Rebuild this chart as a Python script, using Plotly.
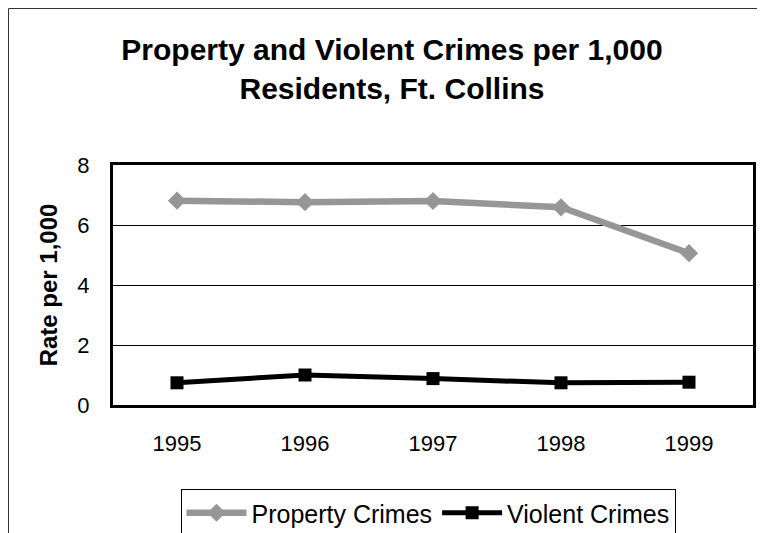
import plotly.graph_objects as go

years = ["1995", "1996", "1997", "1998", "1999"]
property_crimes = [6.81, 6.76, 6.80, 6.59, 5.06]
violent_crimes = [0.74, 1.00, 0.88, 0.74, 0.76]
y_ticks = [0, 2, 4, 6, 8]

# The page body adds an 8px offset, so figure coordinates = screen - 8
OFF = 8
W, H = 765, 533
L, R, T, B = 113 - OFF, W - (753 - OFF), 165 - OFF, H - (405 - OFF)
pw, ph = W - L - R, H - T - B

def px_x(fx):
    return (fx - L) / pw

def px_y(fy):
    return (H - B - fy) / ph

fig = go.Figure()
fig.add_trace(go.Scatter(
    x=years, y=property_crimes, name="Property Crimes", mode="lines+markers",
    line=dict(color="#969696", width=6.5),
    marker=dict(symbol="diamond", size=14, color="#969696"),
))
fig.add_trace(go.Scatter(
    x=years, y=violent_crimes, name="Violent Crimes", mode="lines+markers",
    line=dict(color="#000000", width=5),
    marker=dict(symbol="square", size=13, color="#000000"),
))

font_family = "Liberation Sans, Arial, sans-serif"

fig.update_layout(
    width=W, height=H,
    margin=dict(l=L, r=R, t=T, b=B),
    paper_bgcolor="white", plot_bgcolor="white",
    font=dict(family=font_family, color="black"),
    title=dict(
        text="<b>Property and Violent Crimes per 1,000<br>Residents, Ft. Collins</b>",
        x=((112 + 672) / 2 - OFF) / W, xanchor="center", xref="container",
        y=1 - 52 / H, yanchor="top", yref="container",
        font=dict(size=30, family=font_family, color="black"),
    ),
    xaxis=dict(
        type="category", range=[-0.5, 4.5],
        showline=True, mirror=True, linecolor="black", linewidth=3,
        showgrid=False, ticks="", ticklabelstandoff=17,
        tickfont=dict(size=22),
    ),
    yaxis=dict(
        range=[0, 8], tickvals=y_ticks,
        showline=True, mirror=True, linecolor="black", linewidth=3,
        showgrid=True, gridcolor="black", gridwidth=1, zeroline=False,
        ticks="", ticklabelstandoff=16,
        tickfont=dict(size=22),
        title=dict(text="<b>Rate per 1,000</b>", font=dict(size=24), standoff=13),
    ),
    legend=dict(
        orientation="h", x=(428 - OFF) / W, xanchor="center", xref="container",
        y=(H - (489 - OFF)) / H, yanchor="top", yref="container",
        bordercolor="black", borderwidth=1,
        font=dict(size=25), itemwidth=60,
        traceorder="normal",
    ),
    showlegend=True,
)

fig.add_shape(
    type="rect", xref="paper", yref="paper",
    x0=px_x(0.5), y0=px_y(600), x1=px_x(820), y1=px_y(0.5),
    line=dict(color="#333333", width=1), fillcolor="rgba(0,0,0,0)", layer="below",
)

fig.write_html("out.html")
